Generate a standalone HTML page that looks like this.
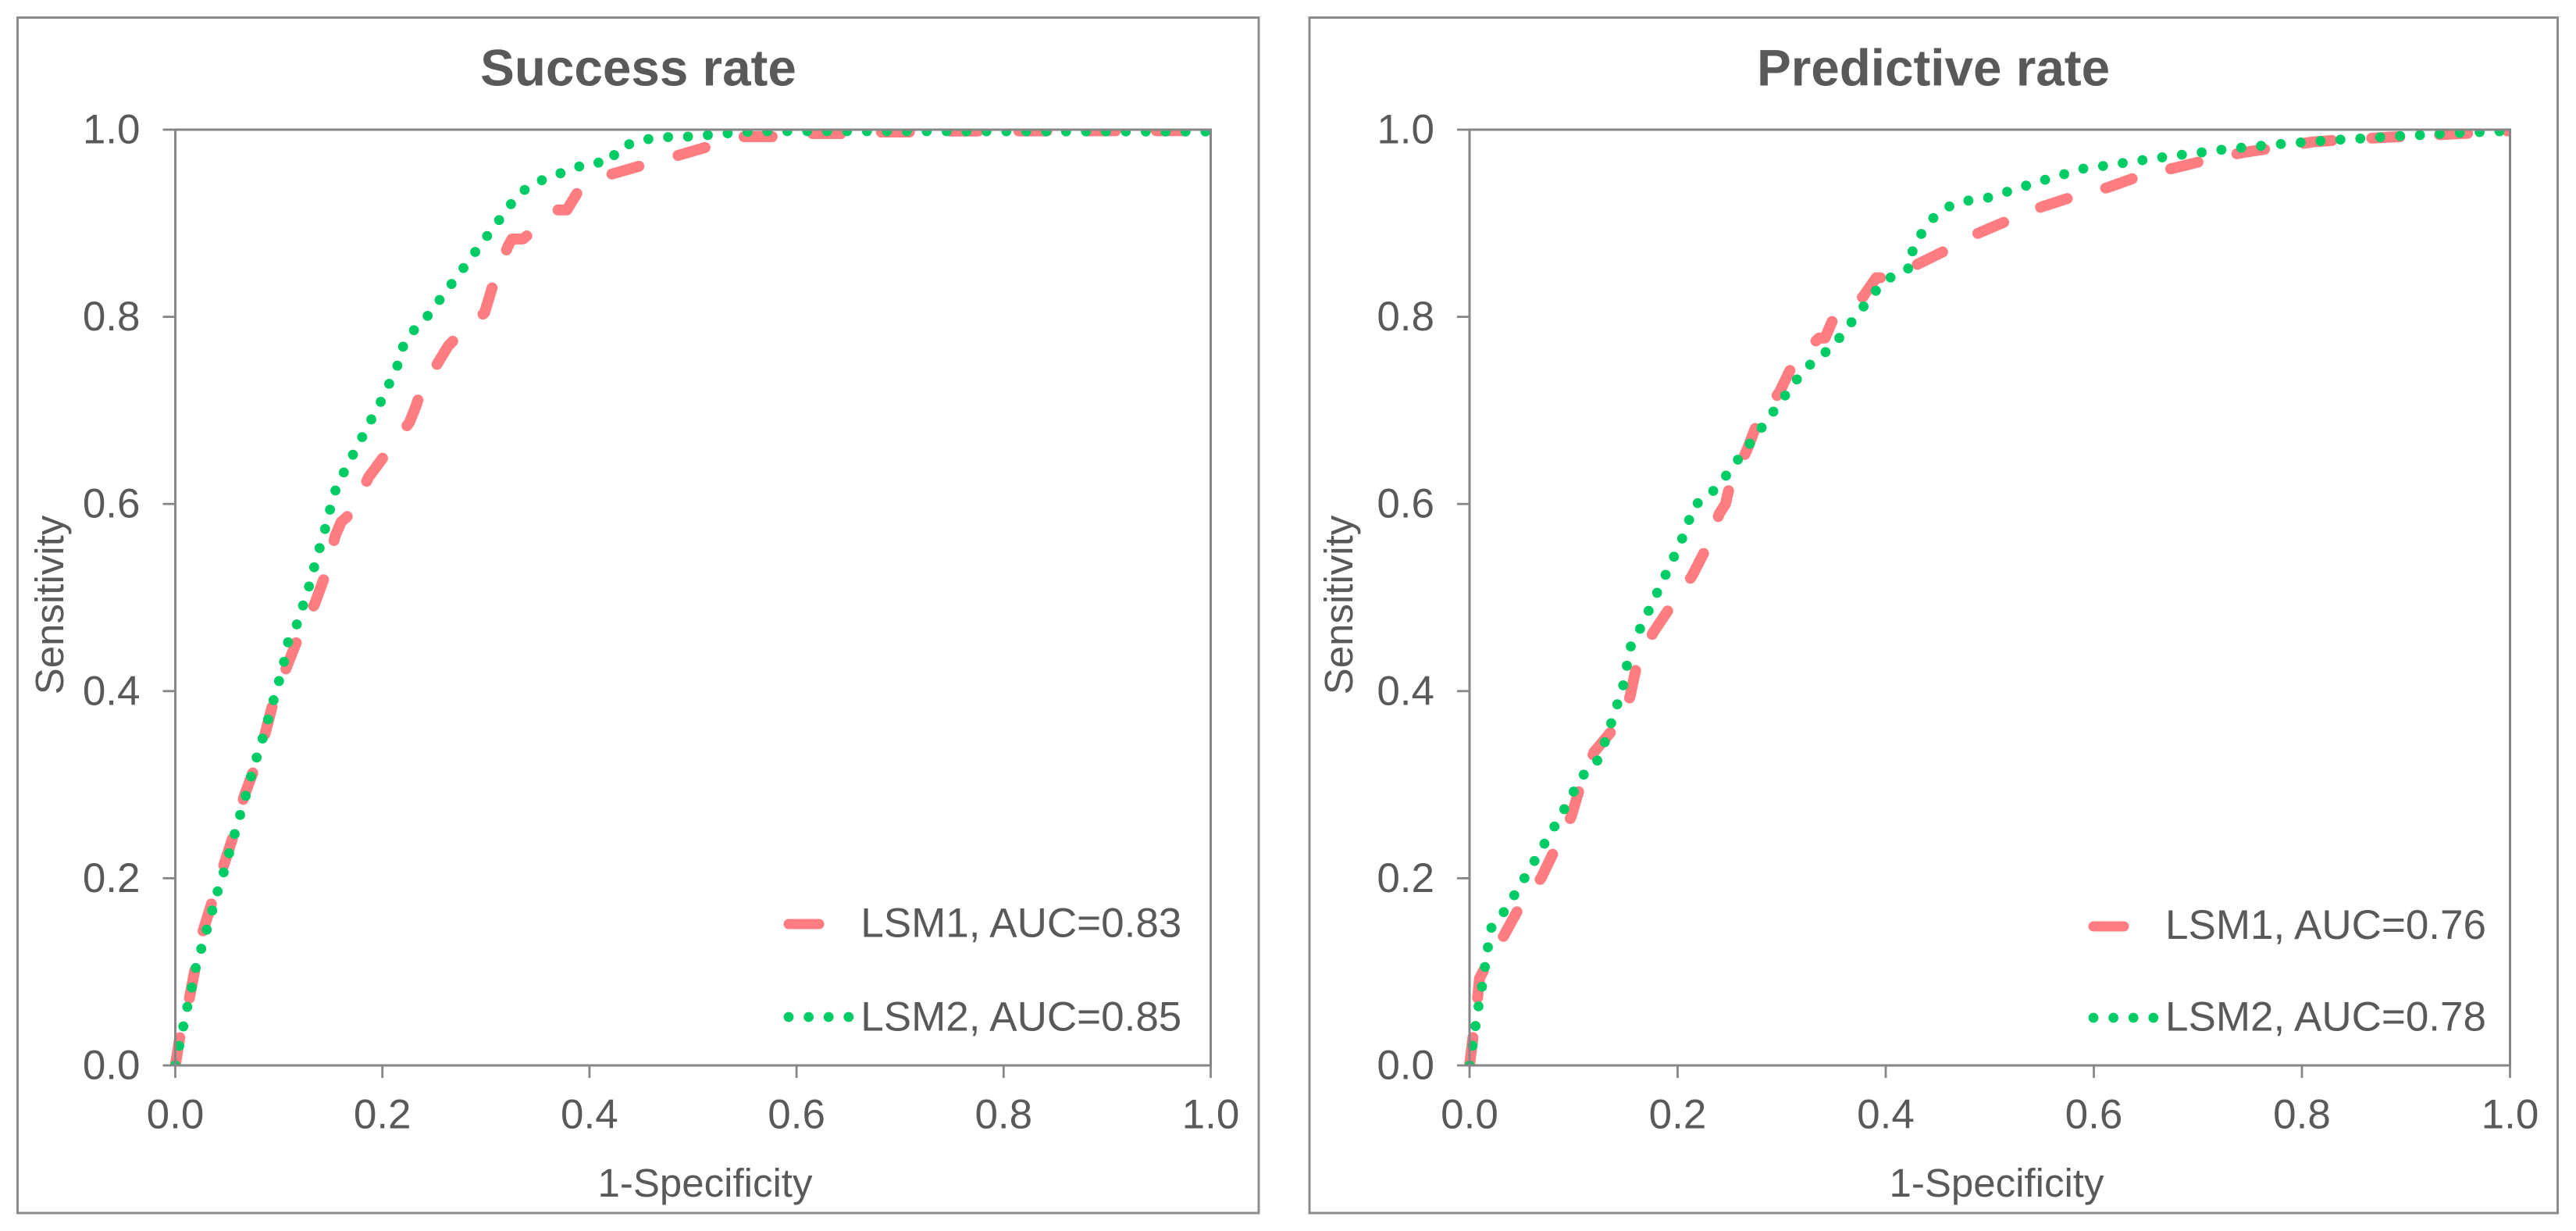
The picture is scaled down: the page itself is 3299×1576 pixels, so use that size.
<!DOCTYPE html>
<html lang="en">
<head>
<meta charset="utf-8">
<title>ROC curves: success rate and predictive rate</title>
<style>
  html, body { margin: 0; padding: 0; background: #ffffff; }
  body { width: 3299px; height: 1576px; overflow: hidden; }
  svg { display: block; }
  text { font-family: "Liberation Sans", Arial, sans-serif; fill: #595959; }
</style>
</head>
<body>
<svg id="figure" xmlns="http://www.w3.org/2000/svg" width="3299" height="1576" viewBox="0 0 3299 1576"></svg>
<script>
// ---- Shared axis tick data ----
const tickValues = [0, 0.2, 0.4, 0.6, 0.8, 1.0];
const tickLabels = ["0.0", "0.2", "0.4", "0.6", "0.8", "1.0"];

// ---- Success rate chart data ----
const successTitle = "Success rate";
const successLegend = ["LSM1, AUC=0.83", "LSM2, AUC=0.85"];
const successLsm1X = [0,.0048,.0135,.0192,.0265,.0366,.0471,.0568,.0664,.0770,.0871,.0952,.1082,.1193,.1347,.1457,.1544,.1602,.1708,.1866,.2044,.2261,.2323,.2371,.2549,.2636,.2732,.2987,.3078,.3213,.3252,.3357,.3444,.3694,.3781,.3896,.4214,.4512,.4858,.5147,.5474,.5826,.6148,.6502,.6821,.7158,.7492,.7847,1];
const successLsm1Y = [0,.0331,.0711,.1041,.1426,.1785,.2149,.2479,.2872,.3190,.3562,.3905,.4277,.4587,.4934,.5266,.5658,.5807,.5913,.6284,.6552,.6871,.7042,.7204,.7532,.7689,.7800,.8043,.8375,.8754,.8831,.8831,.8907,.9142,.9142,.9350,.9525,.9619,.9725,.9819,.9925,.9925,.9958,.9958,.9975,.9975,.9986,.9986,.999];
const successLsm2X = [0,.0038,.0077,.0115,.0159,.0197,.0250,.0303,.0356,.0409,.0467,.0519,.0572,.0625,.0678,.0731,.0784,.0842,.0895,.0948,.1000,.1049,.1087,.1169,.1231,.1289,.1337,.1390,.1443,.1491,.1539,.1621,.1708,.1799,.1886,.1977,.2059,.2140,.2189,.2266,.2395,.2511,.2626,.2742,.2852,.2968,.3083,.3199,.3314,.3463,.3646,.3824,.4002,.4194,.4286,.4464,.4646,.4834,.5026,.5219,.5411,.5604,.5796,1];
const successLsm2Y = [0,.0207,.0413,.0620,.0831,.1041,.1244,.1450,.1653,.1860,.2062,.2264,.2467,.2674,.2876,.3083,.3285,.3488,.3694,.3897,.4099,.4306,.4517,.4698,.4904,.5108,.5308,.5513,.5717,.5926,.6126,.6322,.6510,.6701,.6889,.7076,.7268,.7459,.7659,.7817,.7949,.8119,.8290,.8460,.8626,.8801,.8967,.9142,.9308,.9427,.9504,.9576,.9648,.9648,.9814,.9870,.9921,.9921,.9929,.9951,.9968,.9981,.9985,.998];

// ---- Predictive rate chart data ----
const predictiveTitle = "Predictive rate";
const predictiveLegend = ["LSM1, AUC=0.76", "LSM2, AUC=0.78"];
const predictiveLsm1X = [0,.0038,.0077,.0096,.0153,.0335,.0488,.0689,.0823,.0976,.1067,.1196,.1397,.1541,.1608,.1766,.1933,.2139,.2287,.2402,.2459,.2507,.2665,.2775,.2976,.3120,.3359,.3416,.3512,.3780,.3909,.4014,.4292,.4579,.4865,.5187,.5496,.5841,.6135,.6483,.6777,.7129,.7447,.7779,.8108,.8452,.8804,.9110,.9435,.9798,1];
const predictiveLsm1Y = [0,.0351,.0723,.0930,.1054,.1397,.1707,.2004,.2314,.2657,.2996,.3347,.3616,.3934,.4285,.4628,.4904,.5232,.5551,.5900,.5998,.6224,.6573,.6893,.7191,.7519,.7774,.7774,.8021,.8213,.8417,.8417,.8554,.8711,.8882,.9035,.9174,.9299,.9382,.9521,.9591,.9688,.9758,.9814,.9869,.9897,.9917,.9933,.9953,.9972,.999];
const predictiveLsm2X = [0,.0029,.0057,.0086,.0120,.0148,.0177,.0211,.0311,.0411,.0512,.0608,.0703,.0799,.0895,.0986,.1072,.1211,.1287,.1349,.1407,.1469,.1507,.1531,.1617,.1699,.1780,.1861,.1943,.2024,.2096,.2148,.2292,.2416,.2531,.2646,.2761,.2871,.2986,.3096,.3211,.3344,.3483,.3598,.3718,.3833,.3952,.4105,.4254,.4258,.4354,.4464,.4622,.4797,.4984,.5171,.5351,.5535,.5722,.5906,.6093,.6284,.6475,.6663,.6854,.7041,.7233,.7424,.7615,.7802,.7997,.8185,.8380,.8571,.8762,.8953,.9145,.9336,.9527,.9718,.9913,1];
const predictiveLsm2Y = [0,.0211,.0421,.0632,.0843,.1054,.1269,.1475,.1607,.1785,.1971,.2153,.2339,.2521,.2707,.2893,.3083,.3215,.3413,.3616,.3818,.4017,.4227,.4438,.4616,.4806,.4998,.5189,.5385,.5577,.5773,.5977,.6079,.6228,.6403,.6573,.6744,.6914,.7084,.7259,.7425,.7561,.7672,.7838,.8009,.8179,.8341,.8469,.8533,.8737,.8907,.9065,.9188,.9243,.9274,.9338,.9402,.9466,.9527,.9586,.9613,.9644,.9675,.9705,.9733,.9758,.9786,.9808,.9828,.9847,.9864,.9880,.9894,.9906,.9919,.9933,.9942,.9956,.9967,.9975,.9983,1];

const SVG_NS = "http://www.w3.org/2000/svg";
const figure = document.getElementById("figure");
const AXIS_COLOR = "#868686";
const LSM1_COLOR = "#FF7C80";
const LSM2_COLOR = "#00CC66";
const LSM2_DASH = "0 25.5";

function mk(parent, tag, attrs, content) {
  const el = document.createElementNS(SVG_NS, tag);
  for (const key in attrs) el.setAttribute(key, attrs[key]);
  if (content !== undefined) el.textContent = content;
  parent.appendChild(el);
  return el;
}

function drawPanel(p) {
  const xScale = v => p.left + v * (p.right - p.left);
  const yScale = v => p.bottom - v * (p.bottom - p.top);
  const toPoints = (xs, ys) => xs.map((x, i) => xScale(x).toFixed(1) + "," + yScale(ys[i]).toFixed(1)).join(" ");

  const panel = mk(figure, "g", {});
  
  

  const frame = mk(panel, "rect", { x: p.frameLeft, y: 22.5, width: p.frameRight - p.frameLeft, height: 1530.5, fill: "#ffffff", stroke: "#8c8c8c", "stroke-width": 3 });
  
  

  const title = mk(panel, "text", { x: p.titleX, y: 109.5, "text-anchor": "middle", "font-size": 65.6, "font-weight": "bold" }, p.title);
  
  

  const clip = mk(panel, "clipPath", { id: p.key + "-clip" });
  mk(clip, "rect", { x: p.left - 8, y: p.top, width: p.right - p.left + 8, height: p.bottom - p.top + 1 });

  const curves = mk(panel, "g", { "clip-path": "url(#" + p.key + "-clip)" });
  
  

  const line1 = mk(curves, "polyline", { points: toPoints(p.lsm1X, p.lsm1Y), fill: "none", stroke: LSM1_COLOR, "stroke-width": 14, "stroke-linecap": "round", "stroke-linejoin": "round", "stroke-dasharray": p.lsm1Dash });
  
  

  const line2 = mk(curves, "polyline", { points: toPoints(p.lsm2X, p.lsm2Y), fill: "none", stroke: LSM2_COLOR, "stroke-width": 12.8, "stroke-linecap": "round", "stroke-linejoin": "round", "stroke-dasharray": LSM2_DASH });
  
  

  const plotBox = mk(panel, "rect", { x: p.left, y: p.top, width: p.right - p.left, height: p.bottom - p.top, fill: "none", stroke: AXIS_COLOR, "stroke-width": 3 });
  
  

  tickValues.forEach((v, i) => {
    const yTick = mk(panel, "line", { x1: p.left - 16, x2: p.left, y1: yScale(v), y2: yScale(v), stroke: AXIS_COLOR, "stroke-width": 2.8 });
    
    

    const yLabel = mk(panel, "text", { x: p.left - 45, y: yScale(v) + 17.5, "text-anchor": "end", "font-size": 53 }, tickLabels[i]);
    
    

    const xTick = mk(panel, "line", { x1: xScale(v), x2: xScale(v), y1: p.bottom, y2: p.bottom + 16, stroke: AXIS_COLOR, "stroke-width": 2.8 });
    
    

    const xLabel = mk(panel, "text", { x: xScale(v), y: 1444.5, "text-anchor": "middle", "font-size": 53 }, tickLabels[i]);
    
    
  });

  const yTitle = mk(panel, "text", { transform: "translate(" + p.yTitleX + " 774.5) rotate(-90)", "text-anchor": "middle", "font-size": 51 }, "Sensitivity");
  
  

  const xTitle = mk(panel, "text", { x: p.xTitleX, y: 1532, "text-anchor": "middle", "font-size": 51 }, "1-Specificity");
  
  

  const key1 = mk(panel, "line", { x1: p.legendLineX1 + 6, x2: p.legendLineX2 - 6, y1: p.legendY1, y2: p.legendY1, stroke: LSM1_COLOR, "stroke-width": 13, "stroke-linecap": "round" });
  
  

  const label1 = mk(panel, "text", { x: p.legendTextX, y: p.legendBase1, "font-size": 53 }, p.legend[0]);
  
  

  const key2 = mk(panel, "line", { x1: p.legendLineX1 + 6, x2: p.legendLineX1 + 6 + 78, y1: p.legendY2, y2: p.legendY2, stroke: LSM2_COLOR, "stroke-width": 12.8, "stroke-linecap": "round", "stroke-dasharray": "0 25.6" });
  
  

  const label2 = mk(panel, "text", { x: p.legendTextX, y: p.legendBase2, "font-size": 53 }, p.legend[1]);
  
  
}

drawPanel({
  key: "success-rate", title: successTitle, legend: successLegend, lsm1Dash: "36 52",
  lsm1X: successLsm1X, lsm1Y: successLsm1Y, lsm2X: successLsm2X, lsm2Y: successLsm2Y,
  left: 224.5, right: 1550.5, top: 166, bottom: 1364,
  frameLeft: 22.5, frameRight: 1612, titleX: 817.5, yTitleX: 81, xTitleX: 903,
  legendLineX1: 1004, legendLineX2: 1055, legendTextX: 1102.3, legendY1: 1183, legendY2: 1302,
  legendBase1: 1199.3, legendBase2: 1319.3
});

drawPanel({
  key: "predictive-rate", title: predictiveTitle, legend: predictiveLegend, lsm1Dash: "36 51",
  lsm1X: predictiveLsm1X, lsm1Y: predictiveLsm1Y, lsm2X: predictiveLsm2X, lsm2Y: predictiveLsm2Y,
  left: 1882, right: 3214.5, top: 166, bottom: 1364,
  frameLeft: 1677, frameRight: 3275.5, titleX: 2476, yTitleX: 1732, xTitleX: 2557,
  legendLineX1: 2675, legendLineX2: 2726, legendTextX: 2773, legendY1: 1186, legendY2: 1303,
  legendBase1: 1202, legendBase2: 1319.5
});
</script>
</body>
</html>
